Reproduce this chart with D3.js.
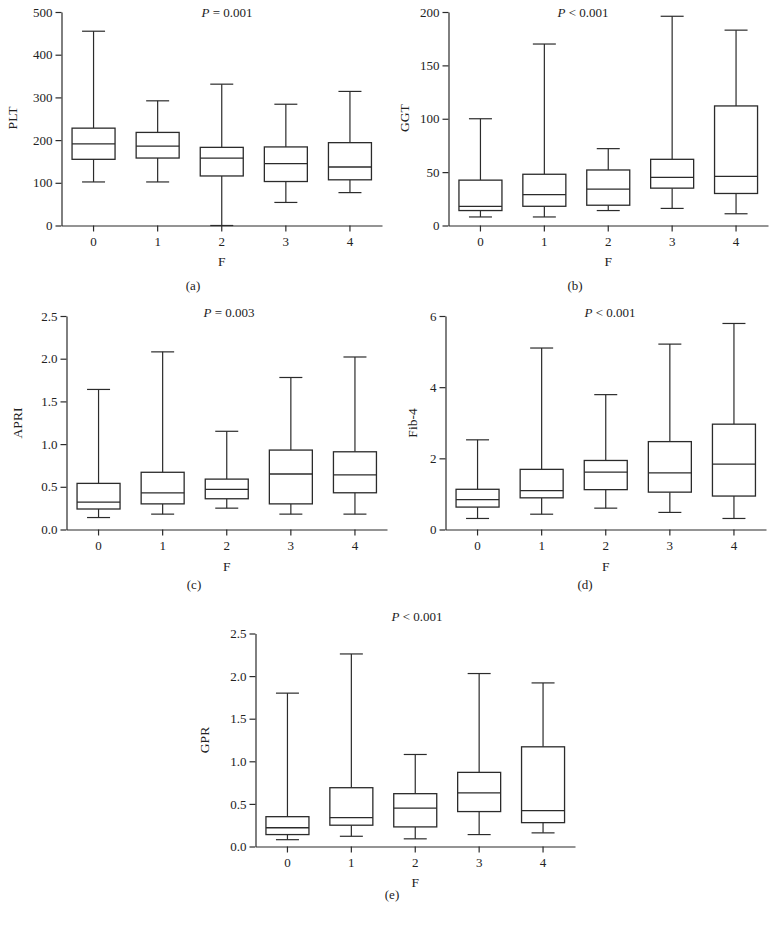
<!DOCTYPE html>
<html>
<head>
<meta charset="utf-8">
<script src="https://cdn.jsdelivr.net/npm/d3@7/dist/d3.min.js"></script>
<style>
  html, body { margin: 0; padding: 0; background: #fff; }
  svg { display: block; }
  text { font-family: "Liberation Serif", "Times New Roman", serif; fill: #222; }
</style>
</head>
<body>
<script>
// ---- Data (five-number summaries: [min, Q1, median, Q3, max]) ----
const categories = ["0", "1", "2", "3", "4"];

const pltStats  = [[102, 155, 191, 228, 455], [102, 158, 186, 218, 292], [0, 116, 158, 183, 331], [54, 103, 145, 184, 284], [77, 107, 137, 194, 314]];
const ggtStats  = [[8, 14, 18, 42.5, 100], [8, 18, 29, 48, 170], [14, 19, 34, 52, 72], [16, 35, 45, 62, 196], [11, 30, 46, 112, 183]];
const apriStats = [[0.14, 0.24, 0.32, 0.54, 1.64], [0.18, 0.30, 0.43, 0.67, 2.08], [0.25, 0.36, 0.47, 0.59, 1.15], [0.18, 0.30, 0.65, 0.93, 1.78], [0.18, 0.43, 0.64, 0.91, 2.02]];
const fib4Stats = [[0.31, 0.63, 0.84, 1.13, 2.52], [0.43, 0.89, 1.09, 1.69, 5.10], [0.60, 1.12, 1.61, 1.94, 3.79], [0.48, 1.05, 1.59, 2.47, 5.21], [0.31, 0.94, 1.84, 2.96, 5.79]];
const gprStats  = [[0.08, 0.14, 0.22, 0.35, 1.80], [0.12, 0.25, 0.34, 0.69, 2.26], [0.09, 0.23, 0.45, 0.62, 1.08], [0.14, 0.41, 0.63, 0.87, 2.03], [0.16, 0.28, 0.42, 1.17, 1.92]];

const pltTicks  = [0, 100, 200, 300, 400, 500];
const ggtTicks  = [0, 50, 100, 150, 200];
const apriTicks = [0, 0.5, 1.0, 1.5, 2.0, 2.5];
const fib4Ticks = [0, 2, 4, 6];
const gprTicks  = [0, 0.5, 1.0, 1.5, 2.0, 2.5];

const yLabels   = ["PLT", "GGT", "APRI", "Fib-4", "GPR"];
const pTexts    = ["= 0.001", "< 0.001", "= 0.003", "< 0.001", "< 0.001"];
const panelTags = ["(a)", "(b)", "(c)", "(d)", "(e)"];
const xLabel    = "F";

// ---- Layout ----
const W = 777, H = 935;
const layouts = [
  { x0: 61.5, x1: 382, yT: 12,    yB: 225.5, tx: 227, ty: 17,  lx: 17,  ly: 118, fy: 266, gx: 193, gy: 290, fmt: d3.format("d") },
  { x0: 448.5, x1: 768, yT: 12,   yB: 225.5, tx: 583, ty: 17,  lx: 409, ly: 118, fy: 266, gx: 575, gy: 290, fmt: d3.format("d") },
  { x0: 66.5, x1: 387, yT: 316,   yB: 529.5, tx: 229, ty: 317, lx: 22,  ly: 423, fy: 571, gx: 194, gy: 589, fmt: d3.format(".1f") },
  { x0: 445.5, x1: 766, yT: 316,  yB: 529.5, tx: 610, ty: 317, lx: 417, ly: 423, fy: 571, gx: 585, gy: 589, fmt: d3.format("d") },
  { x0: 255.5, x1: 575, yT: 633.5, yB: 846.5, tx: 417, ty: 621, lx: 209, ly: 740, fy: 887, gx: 392, gy: 899, fmt: d3.format(".1f") }
];
const statsList = [pltStats, ggtStats, apriStats, fib4Stats, gprStats];
const tickList  = [pltTicks, ggtTicks, apriTicks, fib4Ticks, gprTicks];

const STROKE = "#2b2b2b";
const BOX_W = 43, CAP_W = 23;

const svg = d3.select("body").append("svg").attr("width", W).attr("height", H);

statsList.forEach((stats, i) => {
  const L = layouts[i];
  const ticks = tickList[i];
  const x = d3.scaleBand().domain(categories).range([L.x0, L.x1]);
  const y = d3.scaleLinear().domain([0, d3.max(ticks)]).range([L.yB, L.yT]);
  const g = svg.append("g");

  // axes
  const xAxis = d3.axisBottom(x).tickSizeOuter(0).tickSizeInner(6).tickPadding(5);
  const yAxis = d3.axisLeft(y).tickValues(ticks).tickFormat(L.fmt).tickSizeOuter(0).tickSizeInner(6).tickPadding(3);

  const gx = g.append("g").attr("transform", `translate(0,${L.yB})`).call(xAxis);
  const gy = g.append("g").attr("transform", `translate(${L.x0},0)`).call(yAxis);
  [gx, gy].forEach(a => {
    a.selectAll("path.domain").attr("stroke", STROKE).attr("stroke-width", 1.2);
    a.selectAll(".tick line").attr("stroke", STROKE).attr("stroke-width", 1.2);
    a.selectAll(".tick text").style("font-family", "'Liberation Serif', serif").style("font-size", "13px").attr("fill", "#222");
  });

  // boxes
  const bw = x.bandwidth();
  const grp = g.selectAll("g.box").data(stats).join("g").attr("class", "box")
    .attr("transform", (d, j) => `translate(${x(categories[j]) + bw / 2},0)`);

  grp.append("line").attr("x1", 0).attr("x2", 0)
    .attr("y1", d => y(d[4])).attr("y2", d => y(d[3]))
    .attr("stroke", STROKE).attr("stroke-width", 1.2);
  grp.append("line").attr("x1", 0).attr("x2", 0)
    .attr("y1", d => y(d[1])).attr("y2", d => y(d[0]))
    .attr("stroke", STROKE).attr("stroke-width", 1.2);
  grp.append("line").attr("x1", -CAP_W / 2).attr("x2", CAP_W / 2)
    .attr("y1", d => y(d[4])).attr("y2", d => y(d[4]))
    .attr("stroke", STROKE).attr("stroke-width", 1.2);
  grp.append("line").attr("x1", -CAP_W / 2).attr("x2", CAP_W / 2)
    .attr("y1", d => y(d[0])).attr("y2", d => y(d[0]))
    .attr("stroke", STROKE).attr("stroke-width", 1.2);
  grp.append("rect").attr("x", -BOX_W / 2).attr("width", BOX_W)
    .attr("y", d => y(d[3])).attr("height", d => y(d[1]) - y(d[3]))
    .attr("fill", "#fff").attr("stroke", STROKE).attr("stroke-width", 1.3);
  grp.append("line").attr("x1", -BOX_W / 2).attr("x2", BOX_W / 2)
    .attr("y1", d => y(d[2])).attr("y2", d => y(d[2]))
    .attr("stroke", STROKE).attr("stroke-width", 1.3);

  // title (P value)
  const t = g.append("text").attr("x", L.tx).attr("y", L.ty).attr("text-anchor", "middle").style("font-size", "13px");
  t.append("tspan").style("font-style", "italic").text("P");
  t.append("tspan").text(" " + pTexts[i]);

  // y label
  g.append("text").attr("transform", `translate(${L.lx},${L.ly}) rotate(-90)`)
    .attr("text-anchor", "middle").style("font-size", "13.5px").text(yLabels[i]);

  // x label
  g.append("text").attr("x", (L.x0 + L.x1) / 2).attr("y", L.fy)
    .attr("text-anchor", "middle").style("font-size", "13.5px").text(xLabel);

  // panel tag
  g.append("text").attr("x", L.gx).attr("y", L.gy)
    .attr("text-anchor", "middle").style("font-size", "13px").text(panelTags[i]);
});
</script>
</body>
</html>
